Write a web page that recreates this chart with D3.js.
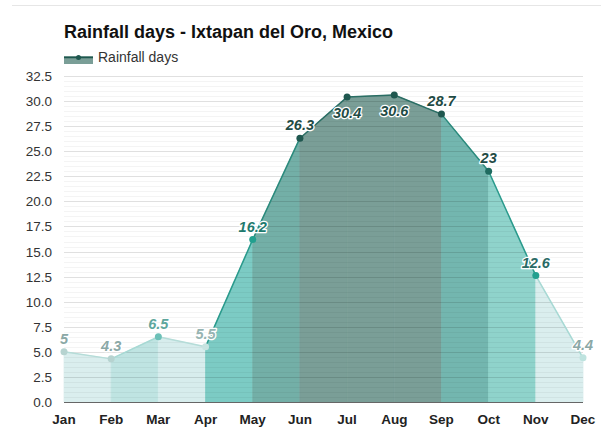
<!DOCTYPE html>
<html>
<head>
<meta charset="utf-8">
<script src="https://cdn.jsdelivr.net/npm/d3@7"></script>
<style>
  body { margin: 0; background: #fff; }
  text { font-family: "Liberation Sans", Arial, sans-serif; }
</style>
</head>
<body>
<div id="chart"></div>
<script>
// Data
const months = ["Jan", "Feb", "Mar", "Apr", "May", "Jun", "Jul", "Aug", "Sep", "Oct", "Nov", "Dec"];
const rainDays = [5, 4.3, 6.5, 5.5, 16.2, 26.3, 30.4, 30.6, 28.7, 23, 12.6, 4.4];
const yTicks = [0, 2.5, 5, 7.5, 10, 12.5, 15, 17.5, 20, 22.5, 25, 27.5, 30, 32.5];

// colours per month segment / point / label
const segFill  = ["#daeeee", "#bfe4e2", "#d7eded", "#7ccbc4", "#73afa7", "#7a9e97", "#7a9e97", "#7a9e97", "#73b6af", "#8fd3cb", "#daeeee"];
const lineCol  = ["#b5dcd8", "#a7d9d4", "#b5dcd8", "#2a9a8c", "#2a8a7c", "#2a6e64", "#2a6e64", "#2a6e64", "#2a8a7c", "#2a9a8c", "#a7d9d4"];
const dotCol   = ["#b6d3d0", "#b6d3d0", "#6cc0b7", "#c7e3e0", "#22a08f", "#1f574f", "#1f574f", "#1f574f", "#1f574f", "#1f6b60", "#22a08f", "#bfe3df"];
const labelCol = ["#8aa8a6", "#8aa8a6", "#5ea69d", "#97b4b2", "#1f7a6e", "#1f4b45", "#1f4b45", "#1f4b45", "#1f4b45", "#1f4b45", "#2a6a65", "#8aa8a6"];
const labelBelow = [false, false, false, false, false, false, true, true, false, false, false, false];

const config = {
  width  : 601,
  height : 427,
  left   : 64,
  right  : 583,
  top    : 76,
  bottom : 402
};

const svg = d3.select("#chart")
  .append("svg")
    .attr("width", config.width)
    .attr("height", config.height);

const x = d3.scalePoint()
  .domain(months)
  .range([config.left, config.right]);

const y = d3.scaleLinear()
  .domain([0, 32.5])
  .range([config.bottom, config.top]);

// top border
svg.append("line")
  .attr("x1", 12).attr("x2", config.width)
  .attr("y1", 5.5).attr("y2", 5.5)
  .style("stroke", "#e6e6e6");

// title + legend
svg.append("text")
  .attr("x", 64).attr("y", 38)
  .style("font-size", "18px")
  .style("font-weight", "bold")
  .style("fill", "#111")
  .text("Rainfall days - Ixtapan del Oro, Mexico");

svg.append("rect")
  .attr("x", 64).attr("y", 56)
  .attr("width", 29).attr("height", 8)
  .style("fill", "#7a9e97");
svg.append("line")
  .attr("x1", 64).attr("x2", 93)
  .attr("y1", 57.5).attr("y2", 57.5)
  .style("stroke", "#1f574f").style("stroke-width", 1.5);
svg.append("circle")
  .attr("cx", 78.5).attr("cy", 57.5).attr("r", 2.5)
  .style("fill", "#1f574f");
svg.append("text")
  .attr("x", 98).attr("y", 62)
  .style("font-size", "14px")
  .style("fill", "#333")
  .text("Rainfall days");

// y labels
svg.append("g").selectAll("text")
  .data(yTicks)
  .enter().append("text")
    .attr("x", 52)
    .attr("y", d => y(d) + 5)
    .attr("text-anchor", "end")
    .style("font-size", "13.5px")
    .style("fill", "#333")
    .text(d => d.toFixed(1));

// area segments
const segs = d3.range(months.length - 1);
const area = d3.area()
  .x(d => x(d[0]))
  .y0(config.bottom)
  .y1(d => y(d[1]));

svg.append("g").selectAll("path")
  .data(segs)
  .enter().append("path")
    .attr("d", i => area([[months[i], rainDays[i]], [months[i + 1], rainDays[i + 1]]]))
    .style("fill", i => segFill[i])
    .style("stroke", i => segFill[i])
    .style("stroke-width", 0.8);

// grid: minor + major, drawn over the fills so they show through
const minor = d3.range(0, 32.51, 0.5);
svg.append("g").selectAll("line")
  .data(minor)
  .enter().append("line")
    .attr("x1", config.left).attr("x2", config.right)
    .attr("y1", d => Math.round(y(d)) + 0.5)
    .attr("y2", d => Math.round(y(d)) + 0.5)
    .style("stroke", "rgba(0,0,0,0.045)");

svg.append("g").selectAll("line")
  .data(yTicks)
  .enter().append("line")
    .attr("x1", config.left).attr("x2", config.right)
    .attr("y1", d => Math.round(y(d)) + 0.5)
    .attr("y2", d => Math.round(y(d)) + 0.5)
    .style("stroke", "rgba(0,0,0,0.08)");

svg.append("g").selectAll("line")
  .data(segs)
  .enter().append("line")
    .attr("x1", i => x(months[i])).attr("y1", i => y(rainDays[i]))
    .attr("x2", i => x(months[i + 1])).attr("y2", i => y(rainDays[i + 1]))
    .style("stroke", i => lineCol[i])
    .style("stroke-width", 1.5);

// x axis line
svg.append("line")
  .attr("x1", config.left).attr("x2", config.right)
  .attr("y1", config.bottom + 0.5).attr("y2", config.bottom + 0.5)
  .style("stroke", "#666");

// x labels
svg.append("g").selectAll("text")
  .data(months)
  .enter().append("text")
    .attr("x", d => x(d))
    .attr("y", 424)
    .attr("text-anchor", "middle")
    .style("font-size", "13.5px")
    .style("font-weight", "bold")
    .style("fill", "#222")
    .text(d => d);

// points
svg.append("g").selectAll("circle")
  .data(rainDays)
  .enter().append("circle")
    .attr("cx", (d, i) => x(months[i]))
    .attr("cy", d => y(d))
    .attr("r", 3.5)
    .style("fill", (d, i) => dotCol[i]);

// value labels
svg.append("g").selectAll("text")
  .data(rainDays)
  .enter().append("text")
    .attr("x", (d, i) => x(months[i]))
    .attr("y", (d, i) => labelBelow[i] ? y(d) + 21 : y(d) - 8)
    .attr("text-anchor", "middle")
    .style("font-size", "14.5px")
    .style("font-weight", "bold")
    .style("font-style", "italic")
    .style("fill", (d, i) => labelCol[i])
    .style("stroke", "#fff")
    .style("stroke-width", 2.5)
    .style("stroke-linejoin", "round")
    .style("paint-order", "stroke")
    .text(d => d);
</script>
</body>
</html>
